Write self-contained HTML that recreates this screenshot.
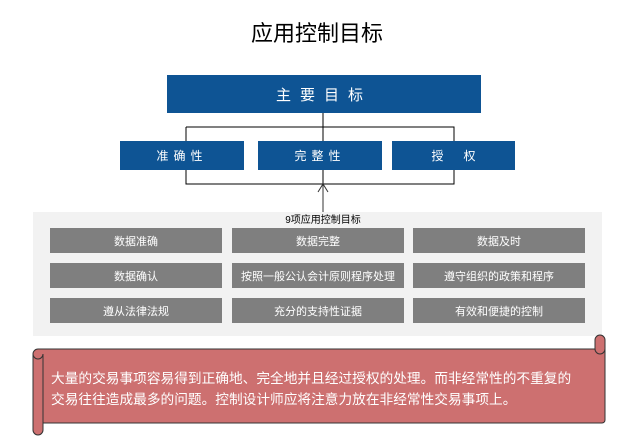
<!DOCTYPE html>
<html><head><meta charset="utf-8"><style>
body{margin:0;width:634px;height:446px;background:#fff;position:relative;overflow:hidden;font-family:"Liberation Sans","Noto Sans CJK SC",sans-serif}
.a{position:absolute}
.b{position:absolute;background:#0e5494;color:#fff;display:flex;align-items:center;justify-content:center}
.g{position:absolute;background:#7f7f7f;color:#fff;font-size:11px;display:flex;align-items:center;justify-content:center;width:172px;height:25px}
</style></head><body>
<div class="a" style="left:0;width:634px;top:16px;text-align:center;font-size:22px;color:#000">应用控制目标</div>
<div class="b" style="left:167px;top:75px;width:314px;height:38px;font-size:15px;letter-spacing:9px">主要目标</div>
<svg class="a" style="left:0;top:0" width="634" height="446">
<path d="M323 113V141M186 127H454V141M186 127V141M186 170V184H454V170M323 170V184" stroke="#000" fill="none"/>
<path d="M323 212V185M318 192L323 184L328 192" stroke="#333" fill="none"/>
</svg>
<div class="b" style="left:120px;top:141px;width:124px;height:29px;font-size:12px;letter-spacing:5px">准确性</div>
<div class="b" style="left:258px;top:141px;width:124px;height:29px;font-size:12px;letter-spacing:5px">完整性</div>
<div class="b" style="left:392px;top:141px;width:123px;height:29px;font-size:12px;letter-spacing:20px;padding-left:20px;box-sizing:border-box">授权</div>
<div class="a" style="left:33px;top:212px;width:569px;height:124px;background:#f2f2f2"></div>
<div class="a" style="left:0;width:646px;top:211px;text-align:center;font-size:10px">9项应用控制目标</div>
<div class="g" style="left:50px;top:228px">数据准确</div>
<div class="g" style="left:232px;top:228px">数据完整</div>
<div class="g" style="left:413px;top:228px">数据及时</div>
<div class="g" style="left:50px;top:263px">数据确认</div>
<div class="g" style="left:232px;top:263px">按照一般公认会计原则程序处理</div>
<div class="g" style="left:413px;top:263px">遵守组织的政策和程序</div>
<div class="g" style="left:50px;top:298px">遵从法律法规</div>
<div class="g" style="left:232px;top:298px">充分的支持性证据</div>
<div class="g" style="left:413px;top:298px">有效和便捷的控制</div>
<svg class="a" style="left:0;top:0" width="634" height="446">
<path d="M38 349H595V340a5 5 0 0 1 10 0V420a3 3 0 0 1-3 3H43V430a5 5 0 0 1-10 0V354a5 5 0 0 1 5-5z" fill="#cd7070" stroke="#333" stroke-width="1"/>
<path d="M595 349a5 5 0 0 0 10 0M33 354a5 5 0 0 0 10 0V423" fill="none" stroke="#333"/>
</svg>
<div class="a" style="left:51px;top:368px;width:560px;font-size:13.7px;line-height:21px;color:#fff;white-space:nowrap">大量的交易事项容易得到正确地、完全地并且经过授权的处理。而非经常性的不重复的<br>交易往往造成最多的问题。控制设计师应将注意力放在非经常性交易事项上。</div>
</body></html>
